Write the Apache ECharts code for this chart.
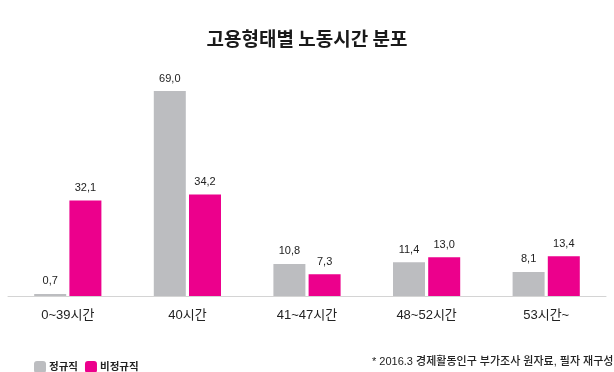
<!DOCTYPE html>
<html><head><meta charset="utf-8">
<script src="https://cdn.jsdelivr.net/npm/echarts@6/dist/echarts.min.js"></script>
<style>html,body{margin:0;padding:0;background:#fff}#c{width:614px;height:372px}</style>
</head><body><div id="c"></div>
<script>
const categories = ['0~39시간', '40시간', '41~47시간', '48~52시간', '53시간~'];
const regular = [0.7, 69.0, 10.8, 11.4, 8.1];
const nonRegular = [32.1, 34.2, 7.3, 13.0, 13.4];
const seriesNames = ['정규직', '비정규직'];
const titleText = '고용형태별 노동시간 분포';
const noteText = '* 2016.3 경제활동인구 부가조사 원자료, 필자 재구성';

const FONT = '"Liberation Sans", "Noto Sans CJK KR", sans-serif';
const fmt = p => p.value.toFixed(1).replace('.', ',');
const chart = echarts.init(document.getElementById('c'));
chart.setOption({
  animation: false,
  textStyle: { fontFamily: FONT },
  title: { text: titleText, left: 'center', top: 24,
    textStyle: { fontSize: 19, fontWeight: 'bold', color: '#1a1a1a', fontFamily: '"Noto Sans CJK KR", sans-serif' } },
  legend: { left: 29, top: 356, itemWidth: 12, itemHeight: 12, itemGap: 7,
    textStyle: { fontSize: 10.5, fontWeight: 'bold', color: '#222', fontFamily: FONT, padding: [0, 0, 0, -2] },
    data: seriesNames },
  graphic: [{ type: 'text', left: 372, top: 356,
    style: { text: noteText, font: '500 11px ' + FONT, fill: '#222' } }],
  grid: { left: 8, width: 598, top: 88, height: 208, containLabel: false },
  xAxis: { type: 'category', data: categories,
    axisLine: { lineStyle: { color: '#d4d4d4', width: 1 } },
    axisTick: { show: false },
    axisLabel: { fontSize: 13, color: '#222', margin: 13, fontFamily: FONT } },
  yAxis: { type: 'value', min: 0, max: 70, show: false, splitLine: { show: false } },
  series: [
    { name: seriesNames[0], type: 'bar', data: regular, barWidth: 32, barGap: '10%',
      itemStyle: { color: '#bcbdc0' },
      label: { show: true, position: 'top', distance: 7, fontSize: 11, color: '#222', fontFamily: FONT, formatter: fmt } },
    { name: seriesNames[1], type: 'bar', data: nonRegular, barWidth: 32,
      itemStyle: { color: '#ec008c' },
      label: { show: true, position: 'top', distance: 7, fontSize: 11, color: '#222', fontFamily: FONT, formatter: fmt } }
  ]
});
</script></body></html>
